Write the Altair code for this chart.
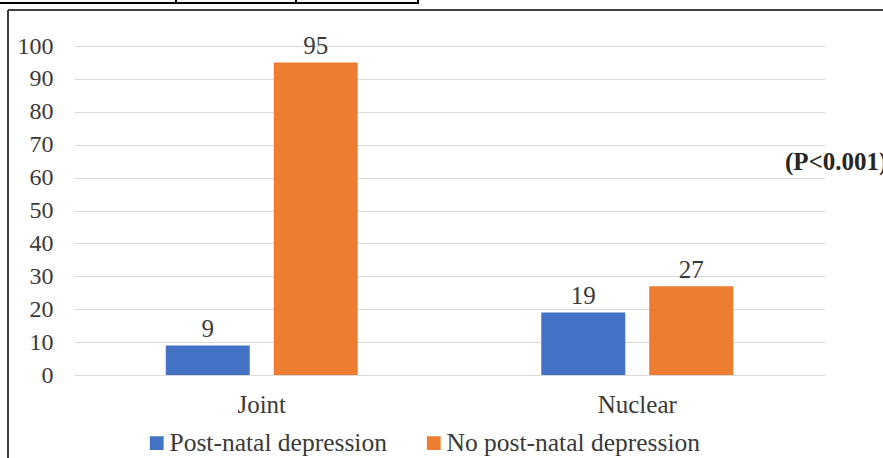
import altair as alt
import pandas as pd

# Family type vs. post-natal depression counts
families = ["Joint", "Nuclear"]
groups = ["Post-natal depression", "No post-natal depression"]
ppd_counts = [9, 19]
no_ppd_counts = [95, 27]
colors = ["#4472C4", "#ED7D31"]
y_ticks = [0, 10, 20, 30, 40, 50, 60, 70, 80, 90, 100]
p_label = "(P<0.001)"

rows = []
for fam, a, b in zip(families, ppd_counts, no_ppd_counts):
    rows.append({"family": fam, "group": groups[0], "count": a})
    rows.append({"family": fam, "group": groups[1], "count": b})
df = pd.DataFrame(rows)

FONT = "Liberation Serif"
TEXT = "#3a3a3a"

x_enc = alt.X(
    "family:N",
    sort=families,
    title=None,
    scale=alt.Scale(paddingInner=0, paddingOuter=0),
    axis=alt.Axis(labelAngle=0, labelFontSize=25, labelPadding=17, grid=False),
)
xoff_enc = alt.XOffset("group:N", sort=groups,
                       scale=alt.Scale(paddingInner=0.222, paddingOuter=0.85))
y_enc = alt.Y(
    "count:Q",
    title=None,
    scale=alt.Scale(domain=[0, 100], nice=False),
    axis=alt.Axis(values=y_ticks, labelFontSize=24, labelPadding=21,
                  labelOverlap=False, grid=True),
)

base = alt.Chart(df).encode(x=x_enc, xOffset=xoff_enc, y=y_enc)

bars = base.mark_bar().encode(
    color=alt.Color(
        "group:N",
        sort=groups,
        scale=alt.Scale(domain=groups, range=colors),
        legend=alt.Legend(
            title=None, orient="none", legendX=70, legendY=384, direction="horizontal",
            symbolType="square", symbolSize=190, symbolStrokeWidth=0,
            labelFontSize=25.5, labelLimit=0,
            columnPadding=34, symbolOffset=0, labelOffset=0,
        ),
    ),
)

labels = base.mark_text(fontSize=25, color=TEXT, baseline="alphabetic", dy=-8).encode(
    text=alt.Text("count:Q"),
)

one = alt.Data(values=[{}])

p_text = alt.Chart(one).mark_text(
    fontSize=25, fontWeight="bold", color="#262626", align="left", baseline="middle"
).encode(x=alt.value(711), y=alt.value(116), text=alt.value(p_label))

# Outer frame (top and left edges)
frame_top = alt.Chart(one).mark_rule(color="#404040", strokeWidth=2).encode(
    x=alt.value(-66), x2=alt.value(812), y=alt.value(-36))
frame_left = alt.Chart(one).mark_rule(color="#404040", strokeWidth=2).encode(
    x=alt.value(-66), y=alt.value(-36), y2=alt.value(415))

# Strip of a table row above the figure
strip_h = alt.Chart(one).mark_rule(color="#000000", strokeWidth=2).encode(
    x=alt.value(-74), x2=alt.value(345), y=alt.value(-43))
strip_v = [
    alt.Chart(one).mark_rule(color="#000000", strokeWidth=2).encode(
        x=alt.value(xv), y=alt.value(-46), y2=alt.value(-43))
    for xv in (102, 222, 344)
]

chart = alt.layer(bars, labels, p_text, frame_top, frame_left, strip_h, *strip_v).properties(
    width=751, height=329,
    autosize=alt.AutoSizeParams(type="none"),
    padding={"left": 74, "top": 46, "right": 58, "bottom": 83},
    background="white",
).configure(
    font=FONT,
).configure_axis(
    labelFont=FONT, labelColor=TEXT, domain=False, ticks=False,
    gridColor="#d9d9d9", gridWidth=1,
).configure_legend(
    labelFont=FONT, labelColor=TEXT,
).configure_text(
    font=FONT,
).configure_view(stroke=None)

chart.save("out.html", embed_options={"renderer": "svg", "actions": False})
